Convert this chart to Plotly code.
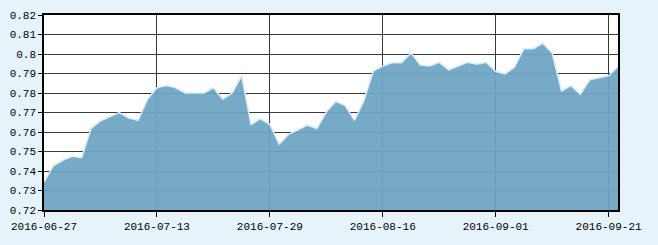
import pandas as pd
import plotly.graph_objects as go

holidays = ["2016-09-15", "2016-09-16"]
dates = [d.strftime("%Y-%m-%d") for d in pd.bdate_range("2016-06-27", "2016-09-22")
         if d.strftime("%Y-%m-%d") not in holidays]

values = [0.7343, 0.7427, 0.7455, 0.7475, 0.7468, 0.7618, 0.7657, 0.7677, 0.7700, 0.7672,
          0.7660, 0.7768, 0.7827, 0.7838, 0.7827, 0.7800, 0.7800, 0.7800, 0.7827, 0.7768,
          0.7800, 0.7888, 0.7638, 0.7668, 0.7638, 0.7538, 0.7588, 0.7610, 0.7635, 0.7618,
          0.7702, 0.7757, 0.7735, 0.7660, 0.7760, 0.7913, 0.7938, 0.7955, 0.7955, 0.8005,
          0.7943, 0.7938, 0.7957, 0.7918, 0.7938, 0.7957, 0.7948, 0.7957, 0.7910, 0.7898,
          0.7932, 0.8027, 0.8027, 0.8055, 0.8005, 0.7810, 0.7838, 0.7793, 0.7868, 0.7877,
          0.7888, 0.7935]

x_ticks = ["2016-06-27", "2016-07-13", "2016-07-29", "2016-08-16", "2016-09-01", "2016-09-21"]
y_ticks = [0.72, 0.73, 0.74, 0.75, 0.76, 0.77, 0.78, 0.79, 0.80, 0.81, 0.82]
y_labels = ["0.72", "0.73", "0.74", "0.75", "0.76", "0.77", "0.78", "0.79", "0.8", "0.81", "0.82"]

fig = go.Figure()
fig.add_trace(go.Scatter(
    x=dates, y=values, mode="lines",
    fill="tozeroy",
    fillcolor="rgba(108,164,195,0.93)",
    line=dict(color="rgba(215,235,248,1)", width=1.5),
    hoverinfo="x+y",
))

font = dict(family="Liberation Mono, DejaVu Sans Mono, monospace", size=11, color="#000000")

fig.update_layout(
    width=658, height=245,
    margin=dict(l=38, r=40, t=10, b=35),
    paper_bgcolor="#e6f3fb",
    plot_bgcolor="#ffffff",
    showlegend=False,
    font=font,
    xaxis=dict(
        type="category",
        range=[0, len(dates) - 1],
        tickmode="array", tickvals=x_ticks, ticktext=x_ticks,
        showgrid=True, gridcolor="#3a3a3a", gridwidth=1,
        ticks="outside", ticklen=5, tickcolor="#000000",
        showline=True, linecolor="#000000", linewidth=1.5, mirror=True,
        tickangle=0, zeroline=False, tickfont=font,
    ),
    yaxis=dict(
        range=[0.72, 0.82],
        tickmode="array", tickvals=y_ticks, ticktext=y_labels,
        showgrid=True, gridcolor="#3a3a3a", gridwidth=1,
        ticks="outside", ticklen=4, tickcolor="#000000",
        showline=True, linecolor="#000000", linewidth=1.5, mirror=True,
        zeroline=False, tickfont=font,
    ),
)

fig.write_html("out.html")
